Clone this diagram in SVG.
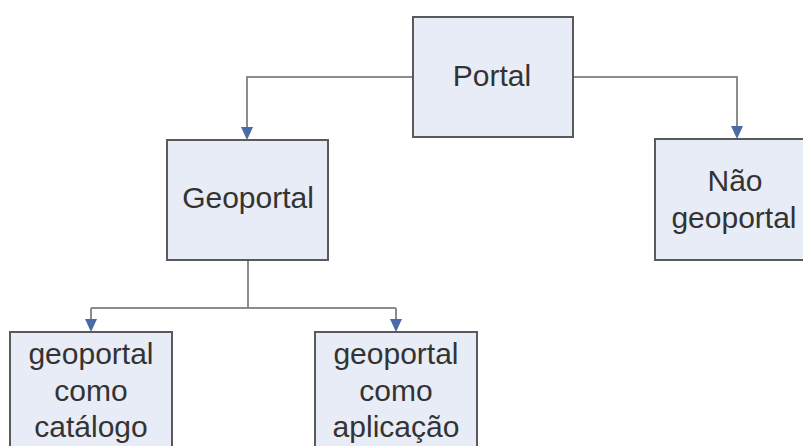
<svg xmlns="http://www.w3.org/2000/svg" width="803" height="446" viewBox="0 0 803 446">
<defs>
<marker id="ah" viewBox="0 0 10 10" refX="10" refY="5" markerWidth="5" markerHeight="5" orient="auto" markerUnits="userSpaceOnUse">
<path d="M0,0 L10,5 L0,10 z" fill="#4a6aa8"/>
</marker>
<style>
.box{fill:#e8ecf6;stroke:#5a5a5a;stroke-width:2}
.t{font-family:"Liberation Sans",Arial,sans-serif;font-size:30px;fill:#333;text-anchor:middle}
.c{fill:none;stroke:#8c8c8c;stroke-width:2}
</style>
</defs>
<rect width="803" height="446" fill="#fff"/>
<g id="connectors">
<path class="c" d="M413,77 H247 V130"/>
<path d="M241,127 L253,127 L247,140 z" fill="#4a6aa8"/>
<path class="c" d="M573,77 H737 V129"/>
<path d="M731,126 L743,126 L737,139 z" fill="#4a6aa8"/>
<path class="c" d="M248,260 V308 M91,308 H396 M91,308 V322 M396,308 V322"/>
<path d="M85,319 L97,319 L91,332 z" fill="#4a6aa8"/>
<path d="M390,319 L402,319 L396,332 z" fill="#4a6aa8"/>
</g>
<g id="portal">
<rect class="box" x="413" y="17" width="160" height="120"/>
<text class="t" x="492" y="86">Portal</text>
</g>
<g id="geoportal">
<rect class="box" x="167" y="140" width="161" height="120"/>
<text class="t" x="248" y="208">Geoportal</text>
</g>
<g id="nao-geoportal">
<rect class="box" x="655" y="139" width="160" height="121"/>
<text class="t" x="735" y="191">Não</text>
<text class="t" x="734" y="228">geoportal</text>
</g>
<g id="catalogo">
<rect class="box" x="10" y="332" width="162" height="130"/>
<text class="t" x="91" y="364">geoportal</text>
<text class="t" x="91" y="401">como</text>
<text class="t" x="91" y="437">catálogo</text>
</g>
<g id="aplicacao">
<rect class="box" x="315" y="332" width="162" height="130"/>
<text class="t" x="396" y="364">geoportal</text>
<text class="t" x="396" y="401">como</text>
<text class="t" x="396" y="437">aplicação</text>
</g>
</svg>
